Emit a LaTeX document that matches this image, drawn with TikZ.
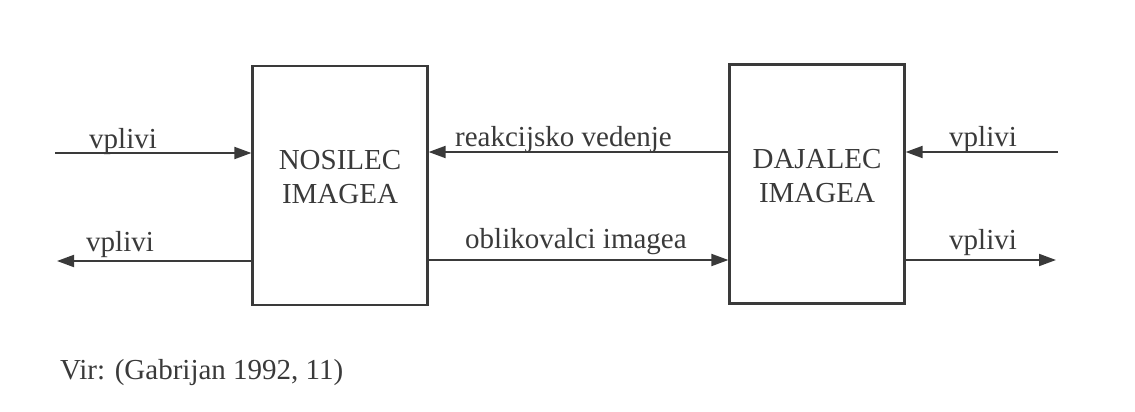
\documentclass[tikz,border=0pt]{standalone}
\usepackage{fontspec}
\setmainfont{Liberation Serif}
\usetikzlibrary{arrows.meta}
\definecolor{ink}{HTML}{3A3A3A}
\begin{document}
\begin{tikzpicture}[x=1pt,y=-1pt,
  every node/.style={text=ink, font=\fontsize{29}{34}\selectfont},
  blok/.style={draw=ink, line width=2.2pt, minimum width=175pt, minimum height=239pt, inner sep=0pt},
  napis/.style={align=center, inner sep=0pt},
  tok/.style={draw=ink, line width=1.9pt, -{Triangle[length=17pt,width=12pt]}},
  oznaka/.style={anchor=base west, inner sep=0pt}]
  \useasboundingbox (0,0) rectangle (1135,412);
  % the two blocks
  \node[blok] (nos) at (340,185.5) {};
  \node[blok] (daj) at (817,184) {};
  \node[napis] (nost) at (340,177) {NOSILEC\\IMAGEA};
  \node[napis] (dajt) at (817,176) {DAJALEC\\IMAGEA};
  % free ends of the outer arrows
  \coordinate (vhL) at (55,153);
  \coordinate (izL) at (57,261);
  \coordinate (vhD) at (1058,152);
  \coordinate (izD) at (1056,260);
  % arrows
  \draw[tok] (vhL) -- (vhL -| nos.west);
  \draw[tok] (izL -| nos.west) -- (izL);
  \draw[tok] (vhD) -- (vhD -| daj.east);
  \draw[tok] (izD -| daj.east) -- (izD);
  \draw[tok] (daj.west |- 0,152) -- (nos.east |- 0,152);
  \draw[tok] (nos.east |- 0,260) -- (daj.west |- 0,260);
  % labels
  \node[oznaka] (l1) at (89,148) {vplivi};
  \node[oznaka] (l2) at (86,251) {vplivi};
  \node[oznaka] (l3) at (949,146) {vplivi};
  \node[oznaka] (l4) at (949,249) {vplivi};
  \node[oznaka] (l5) at (455,146) {reakcijsko vedenje};
  \node[oznaka] (l6) at (465,248) {oblikovalci imagea};
  \node[oznaka] (vir) at (60,379) {Vir: (Gabrijan 1992, 11)};
\end{tikzpicture}
\end{document}
